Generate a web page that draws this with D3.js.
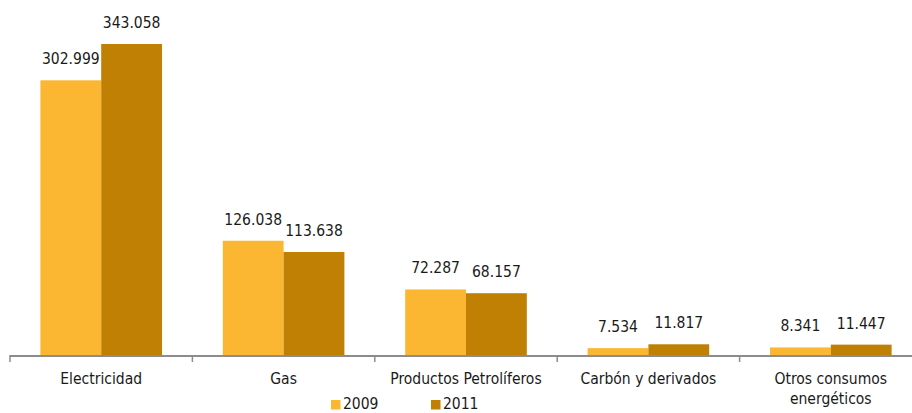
<!DOCTYPE html>
<html>
<head>
<meta charset="utf-8">
<script src="https://cdn.jsdelivr.net/npm/d3@7"></script>
<style>
  html, body { margin: 0; padding: 0; background: #fff; }
  svg { display: block; }
  text { font-family: "DejaVu Sans Condensed", "Liberation Sans", sans-serif; font-stretch: condensed; fill: #1a1a1a; }
</style>
</head>
<body>
<svg id="chart" width="912" height="413"></svg>
<script>
const categories = [["Electricidad"], ["Gas"], ["Productos Petrolíferos"], ["Carbón y derivados"], ["Otros consumos", "energéticos"]];
const seriesNames = ["2009", "2011"];
const values2009 = [302.999, 126.038, 72.287, 7.534, 8.341];
const values2011 = [343.058, 113.638, 68.157, 11.817, 11.447];
const valueLabels2009 = ["302.999", "126.038", "72.287", "7.534", "8.341"];
const valueLabels2011 = ["343.058", "113.638", "68.157", "11.817", "11.447"];
const colors = ["#FBB731", "#C08003"];

const svg = d3.select("#chart");
const fontSize = 15.5;

const x0 = d3.scaleBand()
  .domain(d3.range(categories.length))
  .range([10, 922])
  .paddingInner(0).paddingOuter(0);

const x1 = d3.scaleBand()
  .domain(seriesNames)
  .range([0, x0.bandwidth()])
  .paddingInner(0).paddingOuter(0.5);

const y = d3.scaleLinear().domain([0, 400]).range([355, 355 - 400 * 0.9066]);

const series = [values2009, values2011];
const labels = [valueLabels2009, valueLabels2011];

const groups = svg.append("g").selectAll("g")
  .data(categories.map((c, i) => i))
  .join("g")
  .attr("transform", i => `translate(${x0(i)},0)`);

groups.selectAll("rect")
  .data(i => seriesNames.map((s, k) => ({ s, v: series[k][i], k })))
  .join("rect")
  .attr("x", d => x1(d.s))
  .attr("width", x1.bandwidth())
  .attr("y", d => y(d.v))
  .attr("height", d => y(0) - y(d.v))
  .attr("fill", d => colors[d.k]);

groups.selectAll("text.val")
  .data(i => seriesNames.map((s, k) => ({ s, v: series[k][i], t: labels[k][i] })))
  .join("text")
  .attr("class", "val")
  .attr("x", d => x1(d.s) + x1.bandwidth() / 2)
  .attr("y", d => y(d.v) - 16)
  .attr("text-anchor", "middle")
  .style("font-size", fontSize + "px")
  .text(d => d.t);

// axis
const axisG = svg.append("g");
axisG.append("line")
  .attr("x1", 10).attr("x2", 922)
  .attr("y1", 356).attr("y2", 356)
  .attr("stroke", "#8c8c8c").attr("stroke-width", 2);
const tickPos = d3.range(categories.length + 1).map(i => i < categories.length ? x0(i) : x0(i - 1) + x0.bandwidth());
axisG.selectAll("line.tick")
  .data(tickPos)
  .join("line")
  .attr("class", "tick")
  .attr("x1", d => d).attr("x2", d => d)
  .attr("y1", 355).attr("y2", 362)
  .attr("stroke", "#8c8c8c").attr("stroke-width", 1.5);

const catText = svg.append("g").selectAll("text")
  .data(categories.map((c, i) => ({ c, i })))
  .join("text")
  .attr("x", d => x0(d.i) + x0.bandwidth() / 2)
  .attr("y", 384)
  .attr("text-anchor", "middle")
  .style("font-size", fontSize + "px");
catText.selectAll("tspan")
  .data(d => d.c.map((line, j) => ({ line, j, x: x0(d.i) + x0.bandwidth() / 2 })))
  .join("tspan")
  .attr("x", d => d.x)
  .attr("dy", d => d.j === 0 ? 0 : 20)
  .text(d => d.line);

// legend
const legendX = [331, 431];
const leg = svg.append("g").selectAll("g")
  .data(seriesNames.map((s, k) => ({ s, k })))
  .join("g")
  .attr("transform", d => `translate(${legendX[d.k]},400)`);
leg.append("rect").attr("width", 9.5).attr("height", 9.5).attr("fill", d => colors[d.k]);
leg.append("text").attr("x", 12).attr("y", 9)
  .style("font-size", fontSize + "px").text(d => d.s);
</script>
</body>
</html>
